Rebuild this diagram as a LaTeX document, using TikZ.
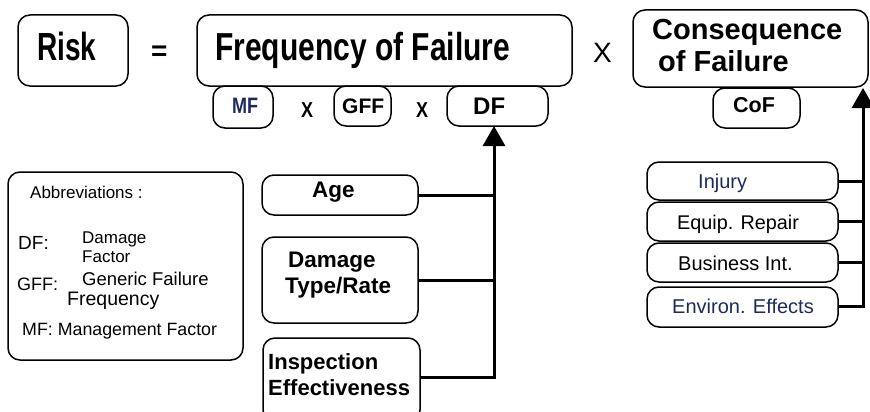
\documentclass[tikz,border=0pt]{standalone}
\usepackage{fontspec}
\setmainfont{Liberation Sans}
\usetikzlibrary{arrows.meta}
\definecolor{navy}{HTML}{1C2A5E}
\newcommand{\fs}[1]{\fontsize{#1}{#1}\selectfont}
\newcommand{\ys}[2]{\scalebox{1}[#1]{#2}}
\tikzset{
  rbox/.style={draw=black, line width=1.5pt, rounded corners=12pt},
  tx/.style={anchor=base west, inner sep=0pt},
  conn/.style={line width=3pt},
  arr/.style={line width=3pt, -{Triangle[length=20pt,width=22pt]}},
}
\begin{document}
\begin{tikzpicture}[x=1pt,y=-1pt]
\useasboundingbox (0,0) rectangle (870,412);
% top row
\draw[rbox] (18,15) rectangle (128,86);
\node[tx, font=\bfseries\fs{28}] (risk) at (37,60) {\ys{1.4}{Risk}};
\node[tx, font=\bfseries\fs{28}] (eq) at (151,60) {=};
\draw[rbox] (197,15) rectangle (572,86);
\node[tx, font=\bfseries\fs{30}] (freq) at (215,60) {\ys{1.3}{Frequency of Failure}};
\node[tx, font=\fs{28}] (x1) at (593,63) {X};
\draw[rbox] (633,10) rectangle (868,87);
\node[tx, font=\bfseries\fs{29}] (cof1) at (652,40) {Consequence};
\node[tx, font=\bfseries\fs{29}] (cof2) at (658,72) {of Failure};
% factors
\draw[rbox, fill=white] (213,86) rectangle (273,128);
\node[tx, font=\bfseries\fs{18}, text=navy] (mf) at (232,113) {\ys{1.24}{MF}};
\node[tx, font=\bfseries\fs{18}] (x2) at (301,117) {\ys{1.2}{X}};
\draw[rbox, fill=white] (334,86) rectangle (391,126);
\node[tx, font=\bfseries\fs{21}] (gff) at (342,113) {GFF};
\node[tx, font=\bfseries\fs{18}] (x3) at (416,117) {\ys{1.2}{X}};
\draw[rbox, fill=white] (447,86) rectangle (548,126);
\coordinate (df) at (494,126);
\node[tx, font=\bfseries\fs{24}] (dftext) at (473,114) {DF};
\draw[rbox, fill=white] (713,88) rectangle (800,128);
\node[tx, font=\bfseries\fs{21.5}] (coftxt) at (733,112) {CoF};
% abbreviations
\draw[rbox] (8,172) rectangle (243,360);
\node[tx, font=\fs{17}] (abb) at (30,198) {Abbreviations :};
\node[tx, font=\fs{19}] (dfl) at (18,249) {DF:};
\node[tx, font=\fs{17}] (dfd1) at (82,243) {Damage};
\node[tx, font=\fs{17}] (dfd2) at (82,262) {Factor};
\node[tx, font=\fs{18}] (gffl) at (17,290) {GFF:};
\node[tx, font=\fs{18.5}] (gffd1) at (82,285) {Generic Failure};
\node[tx, font=\fs{19.5}] (gffd2) at (67,305) {Frequency};
\node[tx, font=\fs{17.8}] (mfl) at (22,335) {MF: Management Factor};
% DF inputs
\draw[rbox] (262,175) rectangle (418,215);
\coordinate (age) at (418,195);
\node[tx, font=\bfseries\fs{22.5}] (agetxt) at (312,197) {Age};
\draw[rbox] (262,237) rectangle (418,323);
\coordinate (dmg) at (418,280);
\node[tx, font=\bfseries\fs{22.5}] (dmg1) at (288,267) {Damage};
\node[tx, font=\bfseries\fs{22.5}] (dmg2) at (285,293) {Type/Rate};
\draw[rbox] (263,338) rectangle (420,422);
\coordinate (insp) at (420,377);
\node[tx, font=\bfseries\fs{22}] (insp1) at (268,369) {Inspection};
\node[tx, font=\bfseries\fs{22}] (insp2) at (268,395) {Effectiveness};
\coordinate (j1) at (494,377);
\draw[conn] (age) -- (age -| j1);
\draw[conn] (dmg) -- (dmg -| j1);
\draw[conn] (insp) -- (j1);
\draw[arr] ([yshift=-1.5pt]j1) -- (df);
% CoF inputs
\draw[rbox] (647,162) rectangle (838,200);
\draw[rbox] (647,202) rectangle (838,241);
\draw[rbox] (647,243) rectangle (838,282);
\draw[rbox] (647,287) rectangle (838,327);
\coordinate (inj) at (838,181);
\coordinate (equ) at (838,221);
\coordinate (bus) at (838,262);
\coordinate (env) at (838,306);
\node[tx, font=\fs{20}, text=navy] (injt) at (698,188) {Injury};
\node[tx, font=\fs{19.8}] (equt) at (677,229) {Equip. Repair};
\node[tx, font=\fs{20}] (bust) at (678,270) {Business Int.};
\node[tx, font=\fs{20}, text=navy] (envt) at (672,313) {Environ. Effects};
\coordinate (j2) at (863,306);
\coordinate (cofb) at (863,88);
\draw[conn] (inj) -- (inj -| j2);
\draw[conn] (equ) -- (equ -| j2);
\draw[conn] (bus) -- (bus -| j2);
\draw[conn] (env) -- (j2);
\draw[arr] ([yshift=-1.5pt]j2) -- (cofb);
\end{tikzpicture}
\end{document}
